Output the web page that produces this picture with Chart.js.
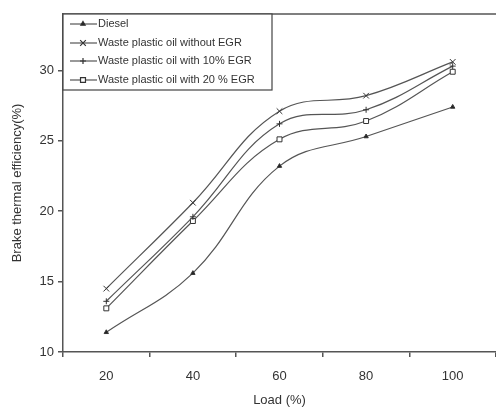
<!DOCTYPE html>
<html>
<head>
<meta charset="utf-8">
<script src="https://cdn.jsdelivr.net/npm/chart.js@4"></script>
<style>
  html, body { margin: 0; padding: 0; background: #fff; }
  #wrap { width: 496px; height: 408px; }
</style>
</head>
<body>
<div id="wrap"><canvas id="bteChart" width="496" height="408"></canvas></div>
<script>
// data
const loads = ['20', '40', '60', '80', '100'];
const diesel = [11.4, 15.6, 23.2, 25.3, 27.4];
const wpoNoEgr = [14.5, 20.6, 27.1, 28.2, 30.6];
const wpo10Egr = [13.6, 19.6, 26.2, 27.2, 30.3];
const wpo20Egr = [13.1, 19.3, 25.1, 26.4, 29.9];
const yTicks = [10, 15, 20, 25, 30];

const lineColor = '#555';
const textColor = '#333';
const font = 'Liberation Sans, Arial, sans-serif';

// legend box drawn inside the plot, top-left corner
const boxLegend = {
    id: 'boxLegend',
    afterDraw(chart) {
        const ctx = chart.ctx;
        const a = chart.chartArea;
        const x0 = a.left, y0 = a.top, w = 209, h = 76;
        ctx.save();
        ctx.fillStyle = '#fff';
        ctx.fillRect(x0, y0, w, h);
        ctx.strokeStyle = '#444';
        ctx.lineWidth = 1.2;
        ctx.strokeRect(x0, y0, w, h);
        ctx.font = '11px ' + font;
        ctx.textBaseline = 'middle';
        const rows = [24, 43, 61, 80];
        chart.data.datasets.forEach((ds, i) => {
            const y = rows[i];
            ctx.strokeStyle = lineColor;
            ctx.lineWidth = 1.2;
            ctx.beginPath();
            ctx.moveTo(x0 + 7, y);
            ctx.lineTo(x0 + 34, y);
            ctx.stroke();
            ctx.fillStyle = ds.pointBackgroundColor;
            ctx.strokeStyle = '#333';
            Chart.helpers.drawPoint(ctx, {
                pointStyle: ds.pointStyle,
                radius: ds.pointRadius,
                rotation: 0,
                borderWidth: 1
            }, x0 + 20, y);
            ctx.fillStyle = textColor;
            ctx.fillText(ds.label, x0 + 35, y);
        });
        ctx.restore();
    }
};

// top border of the frame
const topBorder = {
    id: 'topBorder',
    beforeDatasetsDraw(chart) {
        const ctx = chart.ctx;
        const a = chart.chartArea;
        ctx.save();
        ctx.strokeStyle = '#555';
        ctx.lineWidth = 1.5;
        ctx.beginPath();
        ctx.moveTo(a.left, a.top);
        ctx.lineTo(a.right, a.top);
        ctx.stroke();
        ctx.restore();
    }
};

function series(label, data, style, radius, fill) {
    return {
        label: label,
        data: data,
        borderColor: lineColor,
        borderWidth: 1.2,
        tension: 0.4,
        pointStyle: style,
        pointRadius: radius,
        pointBorderColor: '#333',
        pointBorderWidth: 1,
        pointBackgroundColor: fill,
        fill: false
    };
}

const ctx = document.getElementById('bteChart').getContext('2d');
const bteChart = new Chart(ctx, {
    type: 'line',
    data: {
        labels: loads,
        datasets: [
            series('Diesel', diesel, 'triangle', 2.5, '#222'),
            series('Waste plastic oil without EGR', wpoNoEgr, 'crossRot', 4, '#fff'),
            series('Waste plastic oil with 10% EGR', wpo10Egr, 'cross', 3, '#fff'),
            series('Waste plastic oil with 20 % EGR', wpo20Egr, 'rect', 3.5, '#fff')
        ]
    },
    options: {
        responsive: false,
        animation: false,
        layout: {
            autoPadding: false,
            padding: { top: 14, right: 0, left: 0, bottom: 0 }
        },
        plugins: {
            legend: { display: false },
            tooltip: { enabled: false }
        },
        scales: {
            x: {
                type: 'category',
                offset: true,
                grid: {
                    offset: true,
                    drawOnChartArea: false,
                    drawTicks: true,
                    tickLength: 5,
                    color: '#555',
                    lineWidth: 1.5
                },
                border: { display: true, color: '#555', width: 1.5 },
                ticks: {
                    color: textColor,
                    font: { family: font, size: 13 },
                    padding: 12,
                    maxRotation: 0
                },
                title: {
                    display: true,
                    text: 'Load (%)',
                    color: textColor,
                    font: { family: font, size: 13 },
                    padding: { top: 0, bottom: 0 }
                },
                afterFit(scale) {
                    scale.height = 56;
                    scale.paddingLeft = 0;
                    scale.paddingRight = 0;
                }
            },
            y: {
                min: 10,
                max: 34,
                grid: {
                    drawOnChartArea: false,
                    drawTicks: true,
                    tickLength: 5,
                    color: '#555',
                    lineWidth: 1.5
                },
                border: { display: true, color: '#555', width: 1.5 },
                ticks: {
                    color: textColor,
                    font: { family: font, size: 13 },
                    padding: 4,
                    stepSize: 5
                },
                afterBuildTicks(scale) {
                    scale.ticks = yTicks.map(v => ({ value: v }));
                },
                title: {
                    display: true,
                    text: 'Brake thermal efficiency(%)',
                    color: textColor,
                    font: { family: font, size: 13 },
                    padding: { top: 10, bottom: 0 }
                },
                afterFit(scale) { scale.width = 63; }
            }
        }
    },
    plugins: [topBorder, boxLegend]
});
</script>
</body>
</html>
